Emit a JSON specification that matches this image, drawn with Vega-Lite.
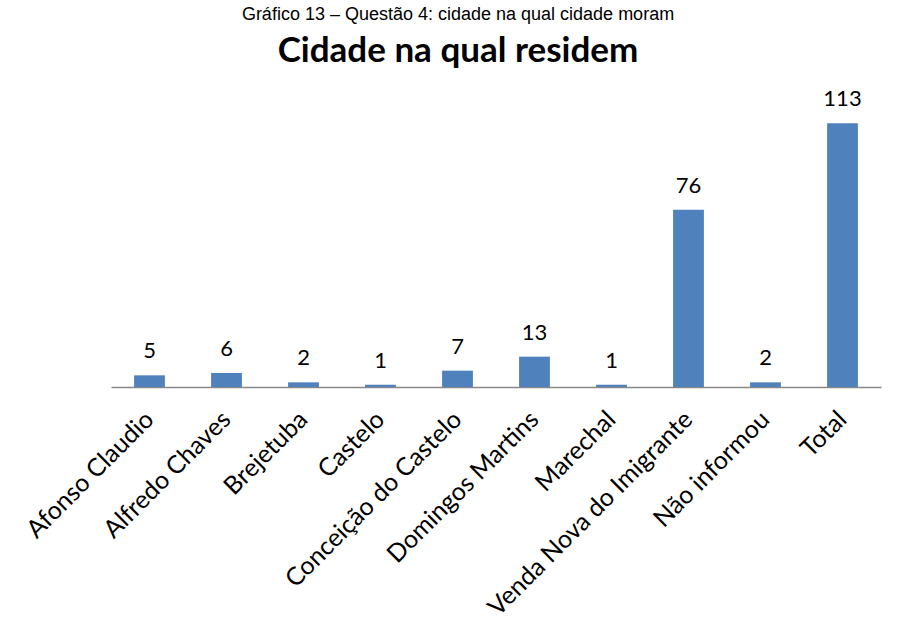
{
  "$schema": "https://vega.github.io/schema/vega-lite/v6.json",
  "width": 770,
  "height": 280,
  "autosize": "none",
  "padding": {"left": 111, "top": 107, "right": 18, "bottom": 249},
  "background": "white",
  "title": {
    "text": "Gráfico 13 – Questão 4: cidade na qual cidade moram",
    "subtitle": "Cidade na qual residem",
    "anchor": "middle",
    "dx": -38,
    "offset": 19,
    "font": "Liberation Sans",
    "fontSize": 18,
    "fontWeight": "normal",
    "color": "#000000",
    "subtitleFont": "Lato",
    "subtitleFontSize": 35,
    "subtitleFontWeight": "bold",
    "subtitleColor": "#000000",
    "subtitlePadding": 10
  },
  "data": {
    "values": [
      {"cidade": "Afonso Claudio", "n": 5},
      {"cidade": "Alfredo Chaves", "n": 6},
      {"cidade": "Brejetuba", "n": 2},
      {"cidade": "Castelo", "n": 1},
      {"cidade": "Conceição do Castelo", "n": 7},
      {"cidade": "Domingos Martins", "n": 13},
      {"cidade": "Marechal", "n": 1},
      {"cidade": "Venda Nova do Imigrante", "n": 76},
      {"cidade": "Não informou", "n": 2},
      {"cidade": "Total", "n": 113}
    ]
  },
  "encoding": {
    "x": {
      "field": "cidade",
      "type": "nominal",
      "sort": null,
      "scale": {"paddingInner": 0.6, "paddingOuter": 0.3},
      "axis": {
        "title": null,
        "labelAngle": -45,
        "labelAlign": "right",
        "labelBaseline": "middle",
        "labelFont": "Lato",
        "labelFontSize": 25,
        "labelColor": "#000000",
        "labelPadding": 28,
        "labelLimit": 0,
        "labelOverlap": false,
        "ticks": false,
        "domainColor": "#888888",
        "domainWidth": 1.5,
        "grid": false
      }
    },
    "y": {
      "field": "n",
      "type": "quantitative",
      "scale": {"domain": [0, 120], "nice": false},
      "axis": null
    }
  },
  "layer": [
    {"mark": {"type": "bar", "color": "#4F81BD"}},
    {
      "mark": {"type": "text", "baseline": "bottom", "dy": -12, "font": "Lato", "fontSize": 22, "color": "#000000"},
      "encoding": {"text": {"field": "n", "type": "quantitative"}}
    }
  ],
  "config": {"view": {"stroke": null}}
}
